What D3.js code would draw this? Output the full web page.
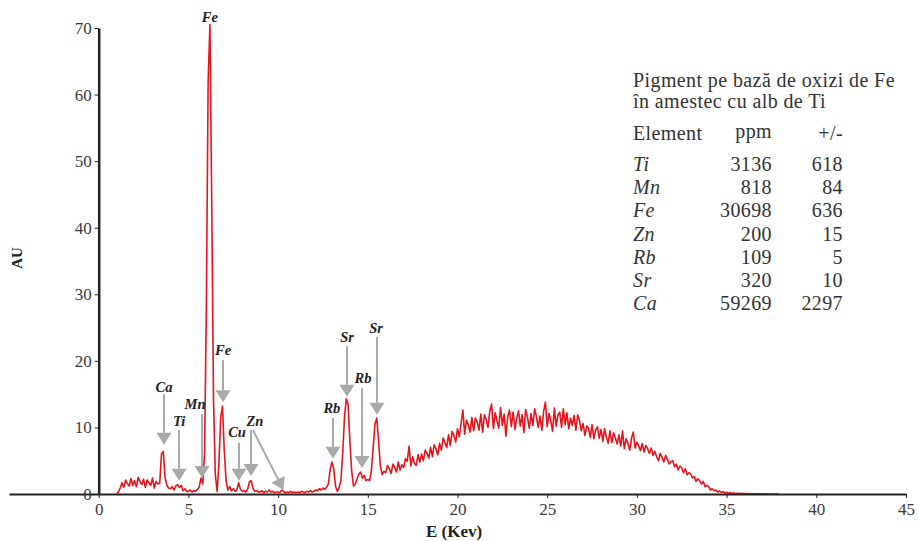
<!DOCTYPE html>
<html>
<head>
<meta charset="utf-8">
<script src="https://cdn.jsdelivr.net/npm/d3@7"></script>
<style>
  body { margin: 0; background: #fff; }
  text { font-family: "Liberation Serif", "Times New Roman", "DejaVu Serif", serif; }
</style>
</head>
<body>
<svg id="chart" width="918" height="541"></svg>
<script>
// XRF spectrum, one value every 0.1 keV starting at 1.0 keV
var energyStart = 1.0;
var energyStep = 0.1;
var spectrum = [
    0.1, 0.3, 0.9, 1.7, 1.0, 2.1, 1.6, 1.2, 2.3, 1.3,
    2.0, 1.1, 2.5, 1.9, 1.4, 2.2, 1.0, 2.1, 1.7, 1.3,
    2.4, 0.9, 1.9, 1.5, 1.6, 6.0, 6.4, 2.5, 1.3, 0.9,
    0.8, 1.1, 0.6, 1.2, 1.4, 1.0, 1.3, 0.5, 0.8, 0.4,
    0.4, 0.6, 0.3, 0.5, 0.4, 0.7, 1.0, 2.4, 1.5, 6.0,
    28, 62, 70.5, 44, 14, 3.0, 0.4, 4.5, 11.5, 13.2,
    6.5, 2.0, 0.6, 1.1, 0.5, 0.8, 0.4, 0.6, 1.7, 0.7,
    0.4, 0.5, 0.3, 0.7, 1.8, 2.0, 0.9, 0.4, 0.5, 0.3,
    0.3, 0.5, 0.2, 0.4, 0.3, 0.6, 0.3, 0.4, 0.2, 0.3,
    0.3, 0.2, 0.6, 0.4, 0.2, 0.3, 0.2, 0.4, 0.2, 0.3,
    0.2, 0.3, 0.2, 0.4, 0.3, 0.2, 0.4, 0.3, 0.5, 0.3,
    0.4, 0.6, 0.5, 0.8, 0.6, 0.9, 0.7, 1.0, 1.5, 3.6,
    4.8, 3.8, 1.2, 0.4, 1.0, 2.0, 6.0, 11.5, 14.3, 13.5,
    8.0, 3.5, 1.2, 1.5, 2.2, 3.0, 3.3, 2.4, 2.8, 2.0,
    2.2, 2.0, 3.5, 7.0, 10.5, 11.4, 8.0, 4.2, 2.9, 3.4,
    3.2, 4.3, 3.8, 3.1, 4.5, 4.0, 3.3, 4.8, 3.6, 4.4,
    4.0, 5.3, 4.9, 7.2, 4.2, 5.6, 4.6, 4.3, 5.9, 4.8,
    6.0, 5.0, 6.6, 6.1, 5.4, 7.0, 5.6, 7.4, 6.8, 5.9,
    7.6, 6.6, 8.4, 7.7, 7.0, 8.9, 7.3, 9.4, 8.8, 7.8,
    9.8, 8.6, 10.6, 12.6, 9.0, 11.1, 10.4, 9.3, 11.5, 9.5,
    11.4, 10.8, 9.6, 12.0, 9.3, 11.9, 11.2, 10.0, 12.4, 13.5,
    9.8, 12.2, 11.0, 9.9, 13.0, 10.3, 12.0, 8.7, 11.6, 12.6,
    10.1, 12.3, 9.7, 11.4, 12.5, 10.2, 11.9, 9.2, 12.7, 11.5,
    9.9, 12.1, 10.3, 12.8, 11.6, 10.0, 11.7, 9.6, 12.4, 13.8,
    10.1, 12.1, 11.0, 9.4, 12.9, 10.2, 11.9, 12.3, 10.0, 12.8,
    10.4, 12.2, 9.8, 11.4, 10.3, 11.8, 9.6, 11.9, 11.0, 9.5,
    10.6, 8.8, 10.2, 9.9, 8.5, 10.4, 8.3, 9.6, 10.1, 8.4,
    9.7, 7.9, 9.8, 8.6, 7.6, 9.5, 7.7, 9.2, 8.4, 7.5,
    8.9, 7.2, 9.5, 6.8, 8.3, 7.6, 6.6, 8.4, 9.3, 6.9,
    7.8, 7.2, 6.5, 7.6, 6.3, 7.3, 6.8, 6.1, 6.9, 5.8,
    6.4, 5.6, 5.0, 6.1, 5.5, 4.8, 5.8, 5.2, 4.5, 4.9,
    5.0, 4.1, 4.5, 3.6, 4.2, 3.9, 3.2, 3.8, 2.9, 3.2,
    3.0, 2.4, 2.6, 1.9, 2.3, 2.0, 1.5, 1.9, 1.1, 1.3,
    1.1, 0.6, 0.8, 0.5, 0.6, 0.3, 0.45, 0.25, 0.35, 0.15,
    0.25, 0.12, 0.2, 0.1, 0.15, 0.08, 0.12, 0.06, 0.1, 0.05,
    0.08, 0.05, 0.06, 0.04, 0.05, 0.03, 0.04, 0.03, 0.03, 0.02,
    0.03, 0.02, 0.02, 0.01, 0.01, 0.01, 0.01, 0, 0, 0
];

var xTicks = [0, 5, 10, 15, 20, 25, 30, 35, 40, 45];
var yTicks = [0, 10, 20, 30, 40, 50, 60, 70];

// peak labels: label point, arrow start and arrow tip in (keV, AU)
var peakLabels = [
    { name: 'Fe', lx: 6.2,   ly: 71.6, arrows: [] },
    { name: 'Ca', lx: 3.64,  ly: 16.1, arrows: [[3.64, 15.0, 3.64, 7.4]] },
    { name: 'Ti', lx: 4.48,  ly: 11.0, arrows: [[4.48, 9.6, 4.48, 2.0]] },
    { name: 'Mn', lx: 5.37,  ly: 13.5, arrows: [[5.76, 12.0, 5.76, 2.4]] },
    { name: 'Fe', lx: 6.93,  ly: 21.6, arrows: [[6.93, 20.1, 6.93, 13.8]] },
    { name: 'Cu', lx: 7.71,  ly: 9.3,  arrows: [[7.82, 7.7, 7.82, 2.0]] },
    { name: 'Zn', lx: 8.71,  ly: 11.0, arrows: [[8.49, 9.6, 8.49, 2.7], [8.6, 9.6, 10.3, 0.6]] },
    { name: 'Rb', lx: 13.0,  ly: 12.9, arrows: [[13.06, 11.4, 13.06, 5.3]] },
    { name: 'Sr', lx: 13.84, ly: 23.6, arrows: [[13.84, 22.2, 13.84, 14.6]] },
    { name: 'Rb', lx: 14.73, ly: 17.4, arrows: [[14.68, 15.9, 14.68, 3.9]] },
    { name: 'Sr', lx: 15.46, ly: 24.9, arrows: [[15.51, 23.6, 15.51, 11.9]] }
];

var titleLines = ['Pigment pe bază de oxizi de Fe', 'în amestec cu alb de Ti'];
var tableHeader = ['Element', 'ppm', '+/-'];
var elements = ['Ti', 'Mn', 'Fe', 'Zn', 'Rb', 'Sr', 'Ca'];
var ppm = [3136, 818, 30698, 200, 109, 320, 59269];
var ppmError = [618, 84, 636, 15, 5, 10, 2297];

var svg = d3.select('#chart');
var x = d3.scaleLinear().domain([-5, 45]).range([9, 906]);
var y = d3.scaleLinear().domain([0, 70]).range([494, 28]);

function drawAxes() {
    var xAxis = svg.append('g')
        .attr('transform', 'translate(0,' + y(0) + ')')
        .call(d3.axisBottom(x).tickValues(xTicks).tickSize(4).tickPadding(5).tickSizeOuter(0));
    xAxis.attr('font-family', null);
    xAxis.select('.domain').attr('stroke', '#222').attr('stroke-width', 2);
    xAxis.selectAll('.tick line').attr('stroke', '#222');
    xAxis.selectAll('.tick text').attr('font-size', 17).attr('fill', '#3a3a3a');

    var yAxis = svg.append('g')
        .attr('transform', 'translate(' + x(0) + ',0)')
        .call(d3.axisLeft(y).tickValues(yTicks).tickSize(4).tickPadding(3).tickSizeOuter(0));
    yAxis.attr('font-family', null);
    yAxis.select('.domain').attr('stroke', '#222').attr('stroke-width', 2.5);
    yAxis.selectAll('.tick line').attr('stroke', '#222');
    yAxis.selectAll('.tick text').attr('font-size', 17).attr('fill', '#3a3a3a');

    svg.append('text')
        .attr('transform', 'translate(22,' + 258 + ') rotate(-90)')
        .attr('text-anchor', 'middle')
        .attr('font-size', 15).attr('font-weight', 'bold').attr('fill', '#222')
        .text('AU');

    svg.append('text')
        .attr('x', 454).attr('y', 537)
        .attr('text-anchor', 'middle')
        .attr('font-size', 17).attr('font-weight', 'bold').attr('fill', '#222')
        .text('E (Kev)');
}

function drawSpectrum() {
    var line = d3.line()
        .x(function (d, i) { return x(energyStart + i * energyStep); })
        .y(function (d) { return y(d); });

    svg.append('path')
        .datum(spectrum)
        .attr('fill', 'none')
        .attr('stroke', '#e8141c')
        .attr('stroke-width', 1.6)
        .attr('stroke-linejoin', 'round')
        .attr('d', line);
}

function drawPeakLabels() {
    var g = svg.append('g');
    peakLabels.forEach(function (p) {
        p.arrows.forEach(function (a) {
            var x0 = x(a[0]), y0 = y(a[1]), x1 = x(a[2]), y1 = y(a[3]);
            var ang = Math.atan2(y1 - y0, x1 - x0);
            var len = 12, half = 7.5;
            var bx = x1 - len * Math.cos(ang), by = y1 - len * Math.sin(ang);
            g.append('line')
                .attr('x1', x0).attr('y1', y0).attr('x2', bx).attr('y2', by)
                .attr('stroke', '#a9a9a9').attr('stroke-width', 2);
            g.append('polygon')
                .attr('points', [
                    [x1, y1],
                    [bx - half * Math.sin(ang), by + half * Math.cos(ang)],
                    [bx + half * Math.sin(ang), by - half * Math.cos(ang)]
                ].map(function (q) { return q.join(','); }).join(' '))
                .attr('fill', '#a9a9a9');
        });
        g.append('text')
            .attr('x', x(p.lx)).attr('y', y(p.ly) + 5)
            .attr('text-anchor', 'middle')
            .attr('font-size', 14.5).attr('font-weight', 'bold').attr('font-style', 'italic')
            .attr('fill', '#222')
            .text(p.name);
    });
}

function drawTable() {
    var g = svg.append('g').attr('font-size', 20).attr('fill', '#333')
        .attr('letter-spacing', 0.4);
    titleLines.forEach(function (t, i) {
        g.append('text').attr('x', 633).attr('y', 87 + i * 21).text(t);
    });
    g.append('text').attr('x', 633).attr('y', 140).text(tableHeader[0]);
    g.append('text').attr('x', 772).attr('y', 138).attr('text-anchor', 'end').text(tableHeader[1]);
    g.append('text').attr('x', 843).attr('y', 140).attr('text-anchor', 'end').text(tableHeader[2]);

    elements.forEach(function (el, i) {
        var yy = 171 + i * 23.2;
        g.append('text').attr('x', 633).attr('y', yy).attr('font-style', 'italic').text(el);
        g.append('text').attr('x', 772).attr('y', yy).attr('text-anchor', 'end').text(ppm[i]);
        g.append('text').attr('x', 843).attr('y', yy).attr('text-anchor', 'end').text(ppmError[i]);
    });
}

drawSpectrum();
drawAxes();
drawPeakLabels();
drawTable();
</script>
</body>
</html>
